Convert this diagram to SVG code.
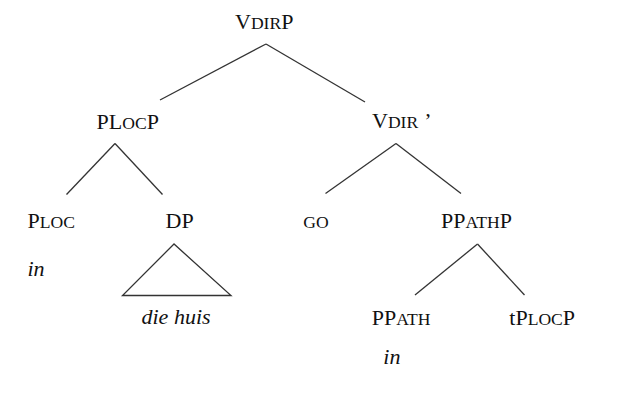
<svg xmlns="http://www.w3.org/2000/svg" width="628" height="409" viewBox="0 0 628 409">
<style>
text{font-family:"Liberation Serif","Times New Roman",serif;font-size:22px;fill:#111}
.sc{font-size:17.6px}
.it{font-style:italic}
.edge{stroke:#333;stroke-width:1.3;fill:none}
</style>
<rect width="628" height="409" fill="#fff"/>
<g id="connectors">
<line class="edge" x1="266" y1="44" x2="160" y2="100"/>
<line class="edge" x1="266" y1="44" x2="365" y2="102"/>
<line class="edge" x1="115" y1="143.5" x2="66.5" y2="194.5"/>
<line class="edge" x1="115" y1="143.5" x2="162.5" y2="194.5"/>
<line class="edge" x1="396" y1="143.5" x2="325.5" y2="193.5"/>
<line class="edge" x1="396" y1="143.5" x2="461" y2="193.5"/>
<line class="edge" x1="477.5" y1="244" x2="415" y2="295"/>
<line class="edge" x1="477.5" y1="244" x2="524.5" y2="295"/>
<path class="edge" d="M174 244 L122.5 295.5 L231 295.5 Z" stroke-width="1.5"/>
</g>
<g id="node-VdirP"><text x="235" y="29">V<tspan class="sc">DIR</tspan>P</text></g>
<g id="node-VdirBar"><text x="372" y="128">V<tspan class="sc">DIR</tspan><tspan dx="6">’</tspan></text></g>
<g id="node-PLocP"><text x="96.5" y="129">PL<tspan class="sc">OC</tspan>P</text></g>
<g id="node-Ploc"><text x="27.5" y="227.5">P<tspan class="sc">LOC</tspan></text></g>
<g id="node-in1"><text class="it" x="27.5" y="276">in</text></g>
<g id="node-DP"><text x="165.5" y="227.5">DP</text></g>
<g id="node-diehuis"><text class="it" x="141.5" y="323.5">die huis</text></g>
<g id="node-GO"><text class="sc" x="303.3" y="227.5">GO</text></g>
<g id="node-PPathP"><text x="441" y="227.5">PP<tspan class="sc">ATH</tspan>P</text></g>
<g id="node-PPath"><text x="371.7" y="325">PP<tspan class="sc">ATH</tspan></text></g>
<g id="node-in2"><text class="it" x="383.3" y="364">in</text></g>
<g id="node-tPlocP"><text x="509.3" y="325">tP<tspan class="sc">LOC</tspan>P</text></g>
</svg>
